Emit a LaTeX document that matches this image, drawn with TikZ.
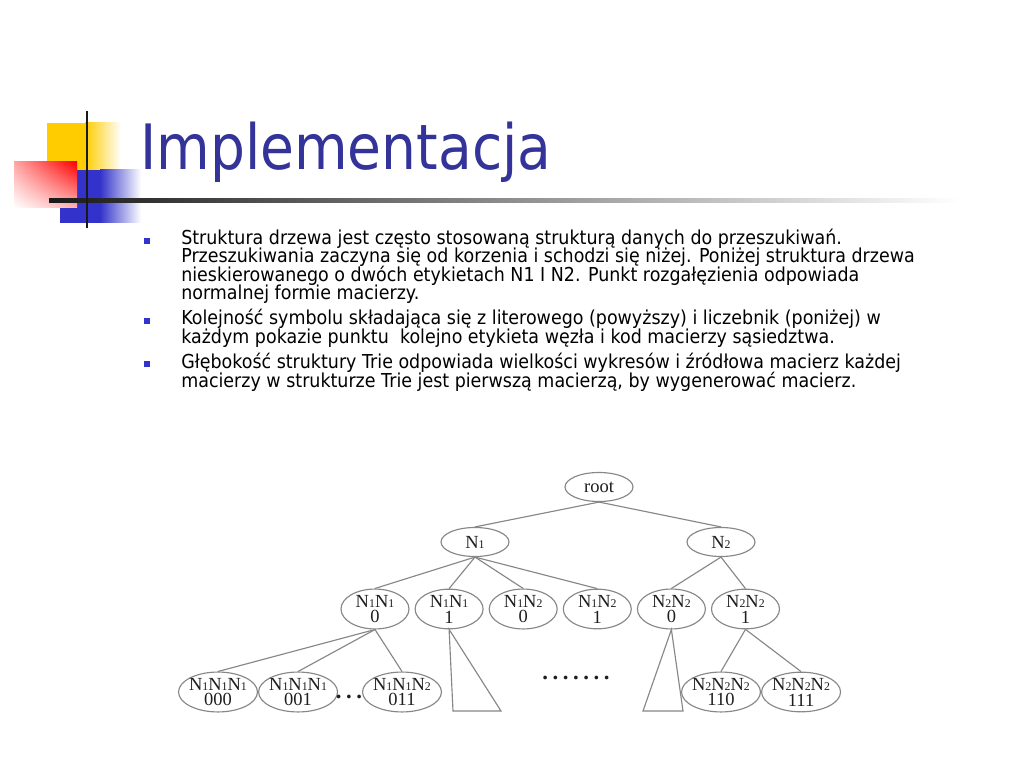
\documentclass[tikz,border=0pt]{standalone}
\usepackage{fontspec}
\setmainfont{DejaVu Sans}[FakeStretch=0.88]
\newfontfamily\bodyfont{DejaVu Sans}[FakeStretch=0.91]
\newfontfamily\treefont{Liberation Serif}
\usepackage{tikz}
\usetikzlibrary{positioning}
\usetikzlibrary{shapes.geometric,shadings}
\definecolor{titleblue}{RGB}{51,51,153}
\definecolor{dotblue}{RGB}{51,51,204}
\definecolor{logoyellow}{RGB}{255,204,0}
\definecolor{logoblue}{RGB}{51,51,204}
\definecolor{treegray}{RGB}{135,135,135}
\definecolor{treetext}{RGB}{30,30,30}
\newcommand{\Nd}[1]{N{\fontsize{8.3}{8.3}\selectfont #1}}
\newcommand{\tightlines}{\lineskiplimit=-20pt\relax}

\begin{document}
\begin{tikzpicture}[x=0.703125pt, y=-0.703125pt, node distance=3.5pt,
    tnode/.style={ellipse, draw=treegray, line width=0.8pt, inner sep=0pt, text=treetext,
      align=center, font=\treefont\fontsize{13}{11.2}\selectfont\tightlines},
    rowa/.style={tnode, minimum width=47.8pt, minimum height=20.4pt},
    rowb/.style={tnode, minimum width=47.8pt, minimum height=26.7pt},
    rowc/.style={tnode, minimum width=55.5pt, minimum height=27.4pt, inner xsep=-1pt},
    dots/.style={font=\treefont\bfseries\fontsize{16}{16}\selectfont, text=treetext, inner sep=0pt},
    bullet/.style={fill=dotblue, inner sep=0pt, minimum size=4.2pt},
    para/.style={anchor=base west, align=left, inner sep=0pt,
      font=\bodyfont\fontsize{13.5}{13.1}\selectfont\tightlines},
    link/.style={draw=treegray, line width=0.8pt}]
      \useasboundingbox (0,0) rectangle (1024,768);
      \fill[white] (0,0) rectangle (1024,768);

      % logo
      \fill[logoyellow] (47,123) rectangle (86,170);
      \shade[left color=logoyellow, right color=white] (85,123) rectangle (121,170);
      \fill[logoblue] (60,170) rectangle (101,223);
      \shade[left color=logoblue, right color=white] (100,170) rectangle (141,223);
      \shade[upper left=red!35, upper right=red, lower left=white, lower right=red!30] (14,162) rectangle (77,208);
      \shade[left color=black!90, middle color=black!35, right color=white] (49,198.5) rectangle (960,203);
      \draw[line width=2.1pt, black!90] (87,111) -- (87,228);

      \node(title) [anchor=base west, inner sep=0pt, text=titleblue, font=\fontsize{44}{44}\selectfont] at (140,170) {Implementacja};

      % bullets
      \node(b1) [bullet] at (147,241) {};
      \node(b2) [bullet] at (147,321) {};
      \node(b3) [bullet] at (147,364) {};
      \node(p1) [para] at (181,300) {Struktura drzewa jest często stosowaną strukturą danych do przeszukiwań.\\
        Przeszukiwania zaczyna się od korzenia i schodzi się niżej. Poniżej struktura drzewa\\
        nieskierowanego o dwóch etykietach N1 I N2. Punkt rozgałęzienia odpowiada\\
        normalnej formie macierzy.};
      \node(p2) [para] at (181,343) {Kolejność symbolu składająca się z literowego (powyższy) i liczebnik (poniżej) w\\
        każdym pokazie punktu\ \ kolejno etykieta węzła i kod macierzy sąsiedztwa.};
      \node(p3) [para] at (181,387) {Głębokość struktury Trie odpowiada wielkości wykresów i źródłowa macierz każdej\\
        macierzy w strukturze Trie jest pierwszą macierzą, by wygenerować macierz.};

      % tree
      \node(root) [rowa] at (599,487) {root};
      \node(n1) [rowa] at (475,542) {\Nd{1}};
      \node(n2) [rowa] at (721,542) {\Nd{2}};
      \node(n11a) [rowb] at (375,609) {\Nd{1}\Nd{1}\\0};
      \node(n11b) [rowb, right=of n11a] {\Nd{1}\Nd{1}\\1};
      \node(n12a) [rowb, right=of n11b] {\Nd{1}\Nd{2}\\0};
      \node(n12b) [rowb, right=of n12a] {\Nd{1}\Nd{2}\\1};
      \node(n22a) [rowb, right=of n12b] {\Nd{2}\Nd{2}\\0};
      \node(n22b) [rowb, right=of n22a] {\Nd{2}\Nd{2}\\1};
      \node(n111a) [rowc] at (218,692) {\Nd{1}\Nd{1}\Nd{1}\\000};
      \node(n111b) [rowc, right=0pt of n111a] {\Nd{1}\Nd{1}\Nd{1}\\001};
      \node(n112) [rowc] at (402,692) {\Nd{1}\Nd{1}\Nd{2}\\011};
      \node(n222a) [rowc] at (721,692) {\Nd{2}\Nd{2}\Nd{2}\\110};
      \node(n222b) [rowc, right=0pt of n222a] {\Nd{2}\Nd{2}\Nd{2}\\111};
      \node(gap) [dots] at (349,697) {.\hspace{3.2pt}.\hspace{3.2pt}.};
      \node(more) [dots] at (576,678) {.\hspace{3.2pt}.\hspace{3.2pt}.\hspace{3.2pt}.\hspace{3.2pt}.\hspace{3.2pt}.\hspace{3.2pt}.};
      \coordinate(t1l) at (453,711);
      \coordinate(t1r) at (501,711);
      \coordinate(t2l) at (643,711);
      \coordinate(t2r) at (683,711);

      \draw[link](root.south) -- (n1.north);
      \draw[link](root.south) -- (n2.north);
      \draw[link](n1.south) -- (n11a.north);
      \draw[link](n1.south) -- (n11b.north);
      \draw[link](n1.south) -- (n12a.north);
      \draw[link](n1.south) -- (n12b.north);
      \draw[link](n2.south) -- (n22a.north);
      \draw[link](n2.south) -- (n22b.north);
      \draw[link](n11a.south) -- (n111a.north);
      \draw[link](n11a.south) -- (n111b.north);
      \draw[link](n11a.south) -- (n112.north);
      \draw[link](n22b.south) -- (n222a.north);
      \draw[link](n22b.south) -- (n222b.north);
      \draw[link](n11b.south) -- (t1l) -- (t1r) -- cycle;
      \draw[link](n22a.south) -- (t2l) -- (t2r) -- cycle;
    \end{tikzpicture}
\end{document}
